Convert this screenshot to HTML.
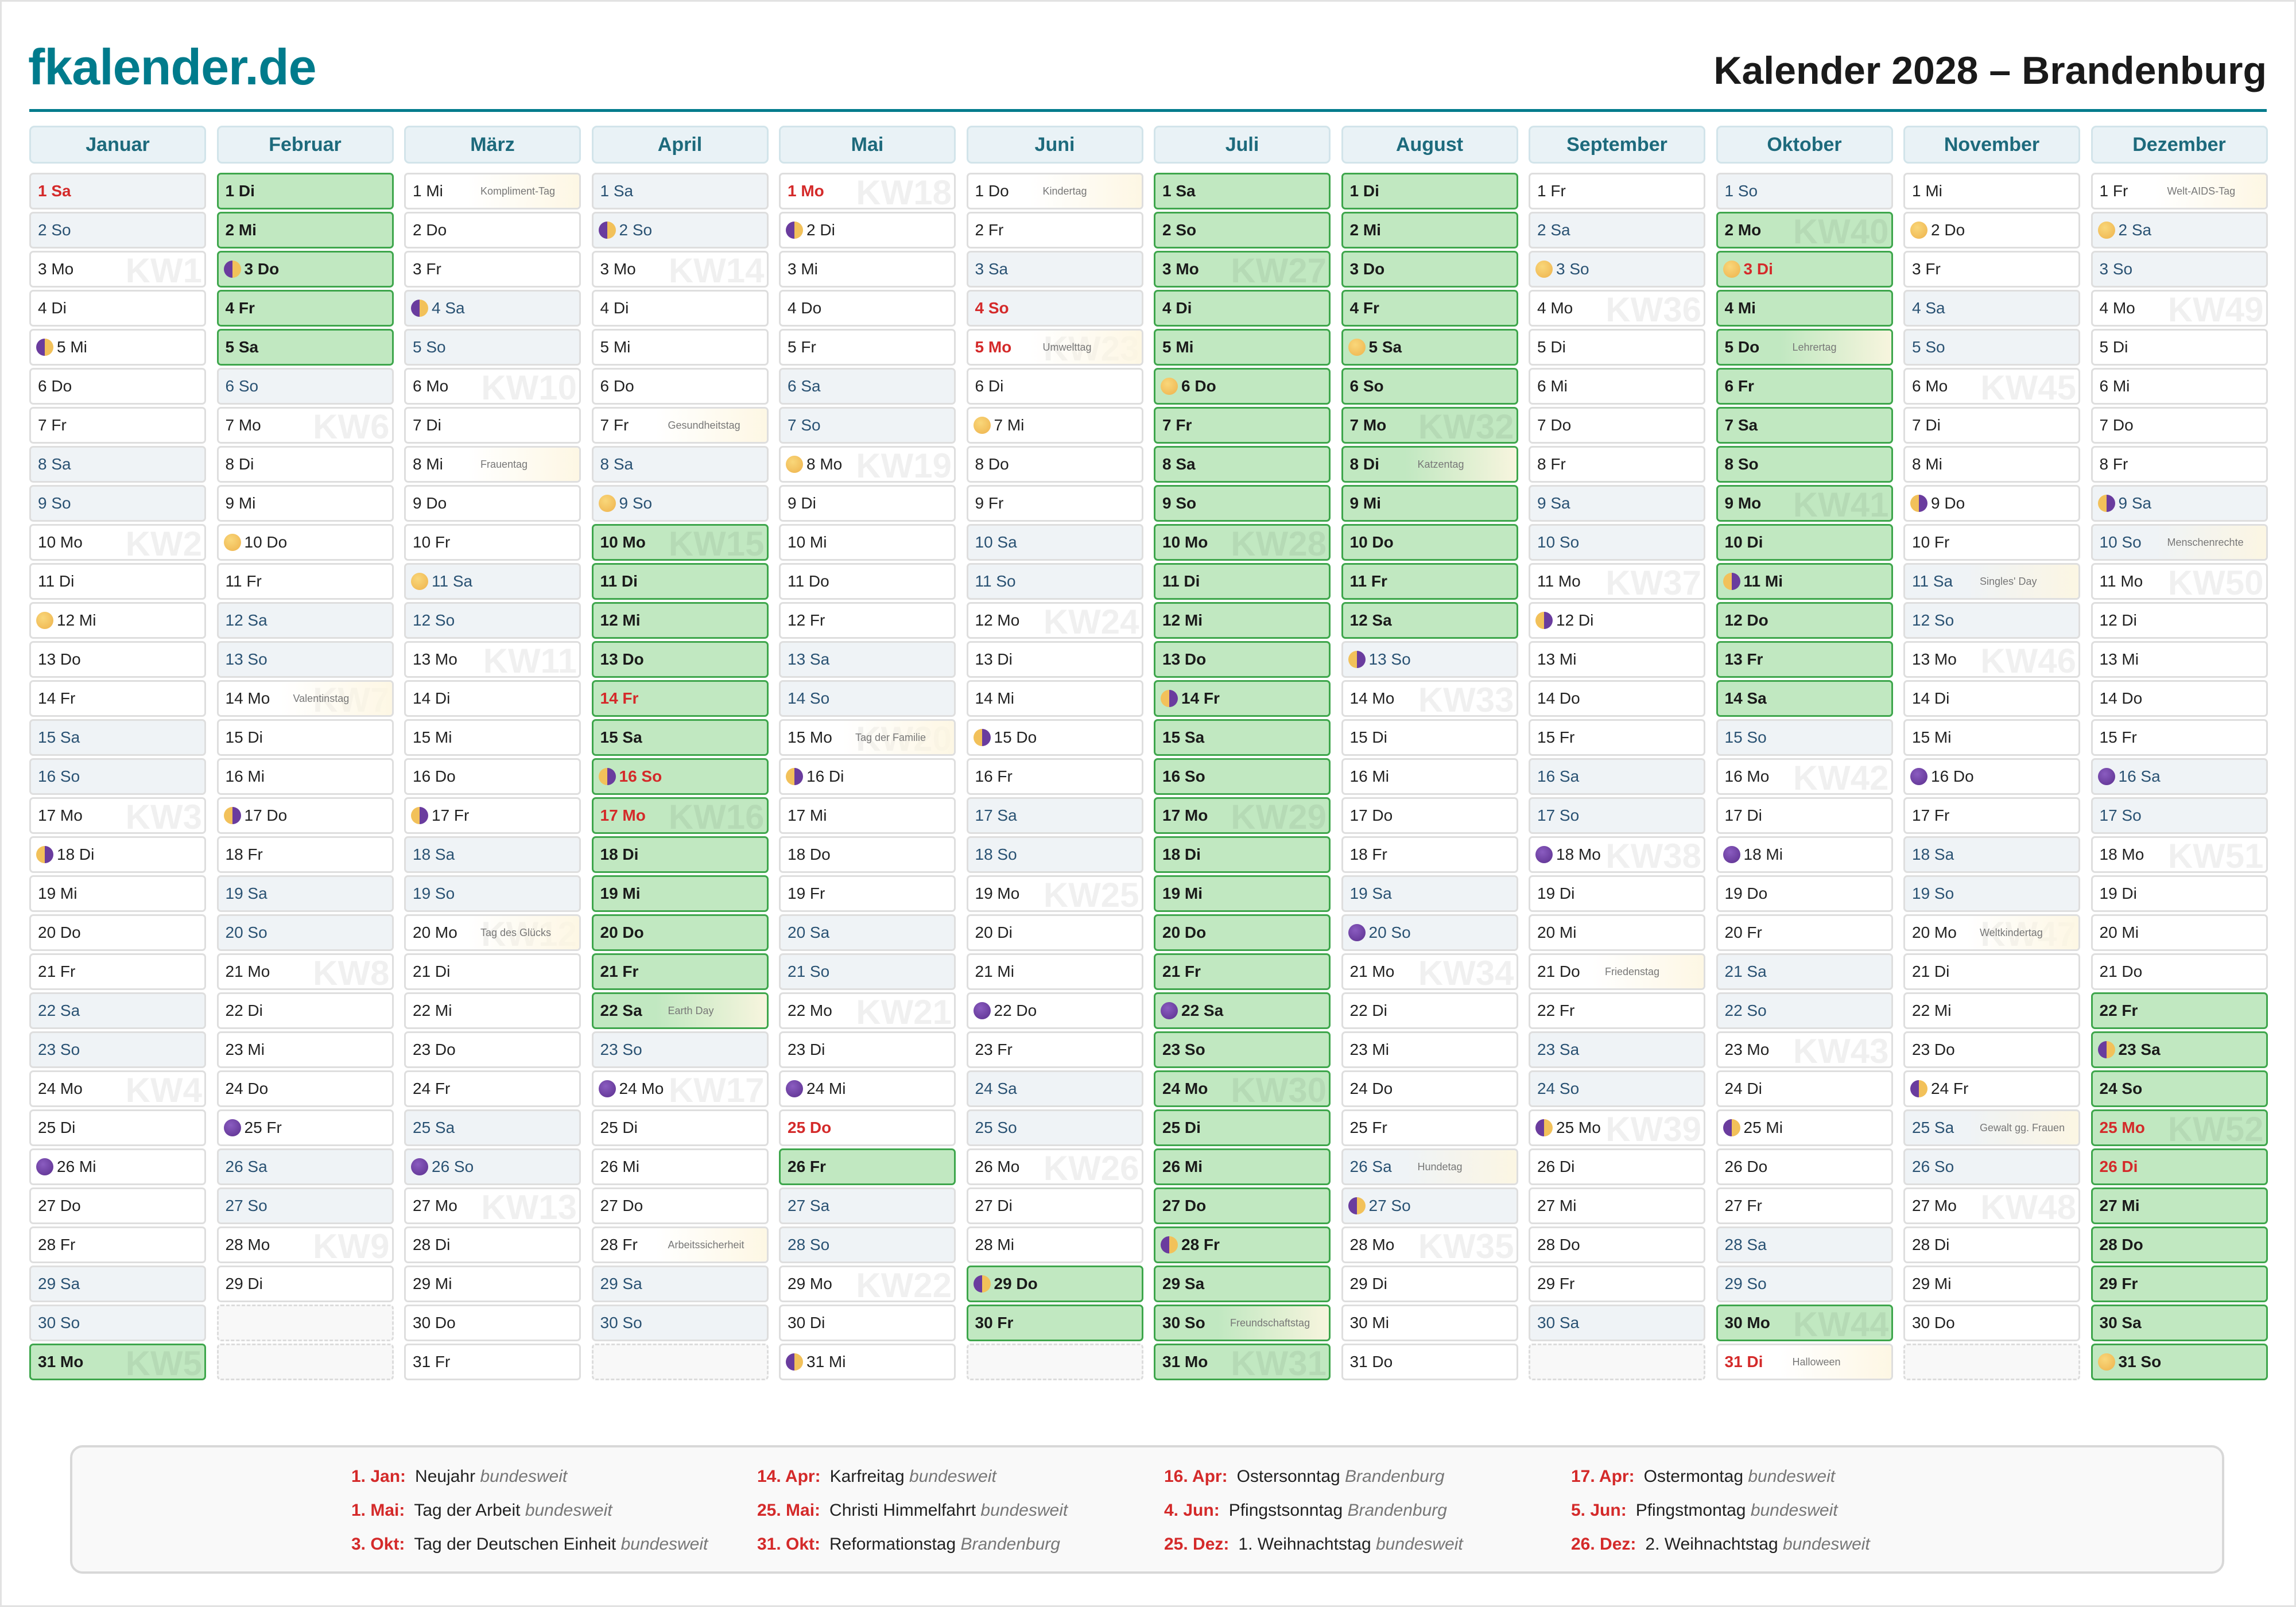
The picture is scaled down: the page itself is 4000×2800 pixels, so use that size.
<!DOCTYPE html>
<html><head><meta charset="utf-8"><style>
html,body{margin:0;padding:0}
body{width:4000px;height:2800px;position:relative;background:#fff;font-family:"Liberation Sans",sans-serif;overflow:hidden}
.frame{position:absolute;left:0;top:0;width:4000px;height:2800px;box-sizing:border-box;border:3px solid #e2e2e2}
.logo{position:absolute;left:49px;top:62px;font-size:88px;font-weight:bold;color:#007b8c;letter-spacing:-1px;line-height:110px}
.title{position:absolute;right:51px;top:78px;font-size:68px;font-weight:bold;color:#1a1a1a;line-height:90px}
.rule{position:absolute;left:51px;top:190px;width:3898px;height:5px;background:#007b8c}
.col{position:absolute;top:219px;width:308px}
.hd{height:66px;box-sizing:border-box;border:3px solid #d2e4ea;background:#e9f2f6;border-radius:9px;text-align:center;line-height:60px;font-size:34px;font-weight:bold;color:#1d6a7c;margin-bottom:16px}
.col p{position:relative;margin:0 0 4px;height:64px;box-sizing:border-box;border:3px solid #dedede;border-radius:7px;background:#fff;padding-left:12px;display:flex;align-items:center;font-size:28px;color:#222;overflow:hidden;white-space:nowrap}
.col p.w{background:#eff3f6;color:#2a5273}
.col p.g{background:#c1e8c1;border-color:#3ea64c;font-weight:bold;color:#1a1a1a}
.col p.h{color:#d42a2a;font-weight:bold}
.col p.e{border:3px dashed #dcdcdc;background:#f8f8f8}
.k{position:absolute;right:4px;top:2px;line-height:60px;font-size:60px;font-weight:bold;color:rgba(0,0,0,0.06)}
.m{display:inline-block;width:30px;height:30px;border-radius:50%;margin:0 6px 0 -3px;flex:none}
.f{background:radial-gradient(circle at 40% 35%,#f9d77a,#eeb24c)}
.n{background:radial-gradient(circle at 40% 35%,#8a5cc0,#5b2f8e)}
.a{background:linear-gradient(90deg,#6a3c9e 50%,#f2c15a 50%)}
.b{background:linear-gradient(90deg,#f2c15a 50%,#6a3c9e 50%)}
.col p em{position:absolute;top:0;bottom:0;right:0;left:108px;padding-left:22px;display:flex;align-items:center;font-style:normal;font-weight:normal;font-size:18px;color:#777;background:linear-gradient(90deg,rgba(253,246,225,0),rgba(253,246,225,.9))}
.leg{position:absolute;left:122px;top:2518px;width:3753px;height:224px;box-sizing:border-box;border:4px solid #d8d8d8;border-radius:22px;background:#f9f9f9}
.li{position:absolute;font-size:30px;color:#222;line-height:40px;white-space:nowrap}
.li b{color:#d42a2a;margin-right:16px}
.li i{color:#777}
</style></head><body>
<div class="frame"></div>
<div class="logo">fkalender.de</div>
<div class="title">Kalender 2028 – Brandenburg</div>
<div class="rule"></div>

<div class="col" style="left:51px"><div class="hd">Januar</div>
<p class="w h">1 Sa</p><p class="w">2 So</p><p><b class="k">KW1</b>3 Mo</p><p>4 Di</p><p><i class="m a"></i>5 Mi</p><p>6 Do</p><p>7 Fr</p><p class="w">8 Sa</p><p class="w">9 So</p><p><b class="k">KW2</b>10 Mo</p><p>11 Di</p><p><i class="m f"></i>12 Mi</p><p>13 Do</p><p>14 Fr</p><p class="w">15 Sa</p><p class="w">16 So</p><p><b class="k">KW3</b>17 Mo</p><p><i class="m b"></i>18 Di</p><p>19 Mi</p><p>20 Do</p><p>21 Fr</p><p class="w">22 Sa</p><p class="w">23 So</p><p><b class="k">KW4</b>24 Mo</p><p>25 Di</p><p><i class="m n"></i>26 Mi</p><p>27 Do</p><p>28 Fr</p><p class="w">29 Sa</p><p class="w">30 So</p><p class="g"><b class="k">KW5</b>31 Mo</p>
</div>

<div class="col" style="left:377.5px"><div class="hd">Februar</div>
<p class="g">1 Di</p><p class="g">2 Mi</p><p class="g"><i class="m a"></i>3 Do</p><p class="g">4 Fr</p><p class="g">5 Sa</p><p class="w">6 So</p><p><b class="k">KW6</b>7 Mo</p><p>8 Di</p><p>9 Mi</p><p><i class="m f"></i>10 Do</p><p>11 Fr</p><p class="w">12 Sa</p><p class="w">13 So</p><p><b class="k">KW7</b>14 Mo<em>Valentinstag</em></p><p>15 Di</p><p>16 Mi</p><p><i class="m b"></i>17 Do</p><p>18 Fr</p><p class="w">19 Sa</p><p class="w">20 So</p><p><b class="k">KW8</b>21 Mo</p><p>22 Di</p><p>23 Mi</p><p>24 Do</p><p><i class="m n"></i>25 Fr</p><p class="w">26 Sa</p><p class="w">27 So</p><p><b class="k">KW9</b>28 Mo</p><p>29 Di</p><p class="e"></p><p class="e"></p>
</div>

<div class="col" style="left:704px"><div class="hd">März</div>
<p>1 Mi<em>Kompliment-Tag</em></p><p>2 Do</p><p>3 Fr</p><p class="w"><i class="m a"></i>4 Sa</p><p class="w">5 So</p><p><b class="k">KW10</b>6 Mo</p><p>7 Di</p><p>8 Mi<em>Frauentag</em></p><p>9 Do</p><p>10 Fr</p><p class="w"><i class="m f"></i>11 Sa</p><p class="w">12 So</p><p><b class="k">KW11</b>13 Mo</p><p>14 Di</p><p>15 Mi</p><p>16 Do</p><p><i class="m b"></i>17 Fr</p><p class="w">18 Sa</p><p class="w">19 So</p><p><b class="k">KW12</b>20 Mo<em>Tag des Glücks</em></p><p>21 Di</p><p>22 Mi</p><p>23 Do</p><p>24 Fr</p><p class="w">25 Sa</p><p class="w"><i class="m n"></i>26 So</p><p><b class="k">KW13</b>27 Mo</p><p>28 Di</p><p>29 Mi</p><p>30 Do</p><p>31 Fr</p>
</div>

<div class="col" style="left:1030.5px"><div class="hd">April</div>
<p class="w">1 Sa</p><p class="w"><i class="m a"></i>2 So</p><p><b class="k">KW14</b>3 Mo</p><p>4 Di</p><p>5 Mi</p><p>6 Do</p><p>7 Fr<em>Gesundheitstag</em></p><p class="w">8 Sa</p><p class="w"><i class="m f"></i>9 So</p><p class="g"><b class="k">KW15</b>10 Mo</p><p class="g">11 Di</p><p class="g">12 Mi</p><p class="g">13 Do</p><p class="g h">14 Fr</p><p class="g">15 Sa</p><p class="g h"><i class="m b"></i>16 So</p><p class="g h"><b class="k">KW16</b>17 Mo</p><p class="g">18 Di</p><p class="g">19 Mi</p><p class="g">20 Do</p><p class="g">21 Fr</p><p class="g">22 Sa<em>Earth Day</em></p><p class="w">23 So</p><p><b class="k">KW17</b><i class="m n"></i>24 Mo</p><p>25 Di</p><p>26 Mi</p><p>27 Do</p><p>28 Fr<em>Arbeitssicherheit</em></p><p class="w">29 Sa</p><p class="w">30 So</p><p class="e"></p>
</div>

<div class="col" style="left:1357px"><div class="hd">Mai</div>
<p class="h"><b class="k">KW18</b>1 Mo</p><p><i class="m a"></i>2 Di</p><p>3 Mi</p><p>4 Do</p><p>5 Fr</p><p class="w">6 Sa</p><p class="w">7 So</p><p><b class="k">KW19</b><i class="m f"></i>8 Mo</p><p>9 Di</p><p>10 Mi</p><p>11 Do</p><p>12 Fr</p><p class="w">13 Sa</p><p class="w">14 So</p><p><b class="k">KW20</b>15 Mo<em>Tag der Familie</em></p><p><i class="m b"></i>16 Di</p><p>17 Mi</p><p>18 Do</p><p>19 Fr</p><p class="w">20 Sa</p><p class="w">21 So</p><p><b class="k">KW21</b>22 Mo</p><p>23 Di</p><p><i class="m n"></i>24 Mi</p><p class="h">25 Do</p><p class="g">26 Fr</p><p class="w">27 Sa</p><p class="w">28 So</p><p><b class="k">KW22</b>29 Mo</p><p>30 Di</p><p><i class="m a"></i>31 Mi</p>
</div>

<div class="col" style="left:1683.5px"><div class="hd">Juni</div>
<p>1 Do<em>Kindertag</em></p><p>2 Fr</p><p class="w">3 Sa</p><p class="w h">4 So</p><p class="h"><b class="k">KW23</b>5 Mo<em>Umwelttag</em></p><p>6 Di</p><p><i class="m f"></i>7 Mi</p><p>8 Do</p><p>9 Fr</p><p class="w">10 Sa</p><p class="w">11 So</p><p><b class="k">KW24</b>12 Mo</p><p>13 Di</p><p>14 Mi</p><p><i class="m b"></i>15 Do</p><p>16 Fr</p><p class="w">17 Sa</p><p class="w">18 So</p><p><b class="k">KW25</b>19 Mo</p><p>20 Di</p><p>21 Mi</p><p><i class="m n"></i>22 Do</p><p>23 Fr</p><p class="w">24 Sa</p><p class="w">25 So</p><p><b class="k">KW26</b>26 Mo</p><p>27 Di</p><p>28 Mi</p><p class="g"><i class="m a"></i>29 Do</p><p class="g">30 Fr</p><p class="e"></p>
</div>

<div class="col" style="left:2010px"><div class="hd">Juli</div>
<p class="g">1 Sa</p><p class="g">2 So</p><p class="g"><b class="k">KW27</b>3 Mo</p><p class="g">4 Di</p><p class="g">5 Mi</p><p class="g"><i class="m f"></i>6 Do</p><p class="g">7 Fr</p><p class="g">8 Sa</p><p class="g">9 So</p><p class="g"><b class="k">KW28</b>10 Mo</p><p class="g">11 Di</p><p class="g">12 Mi</p><p class="g">13 Do</p><p class="g"><i class="m b"></i>14 Fr</p><p class="g">15 Sa</p><p class="g">16 So</p><p class="g"><b class="k">KW29</b>17 Mo</p><p class="g">18 Di</p><p class="g">19 Mi</p><p class="g">20 Do</p><p class="g">21 Fr</p><p class="g"><i class="m n"></i>22 Sa</p><p class="g">23 So</p><p class="g"><b class="k">KW30</b>24 Mo</p><p class="g">25 Di</p><p class="g">26 Mi</p><p class="g">27 Do</p><p class="g"><i class="m a"></i>28 Fr</p><p class="g">29 Sa</p><p class="g">30 So<em>Freundschaftstag</em></p><p class="g"><b class="k">KW31</b>31 Mo</p>
</div>

<div class="col" style="left:2336.5px"><div class="hd">August</div>
<p class="g">1 Di</p><p class="g">2 Mi</p><p class="g">3 Do</p><p class="g">4 Fr</p><p class="g"><i class="m f"></i>5 Sa</p><p class="g">6 So</p><p class="g"><b class="k">KW32</b>7 Mo</p><p class="g">8 Di<em>Katzentag</em></p><p class="g">9 Mi</p><p class="g">10 Do</p><p class="g">11 Fr</p><p class="g">12 Sa</p><p class="w"><i class="m b"></i>13 So</p><p><b class="k">KW33</b>14 Mo</p><p>15 Di</p><p>16 Mi</p><p>17 Do</p><p>18 Fr</p><p class="w">19 Sa</p><p class="w"><i class="m n"></i>20 So</p><p><b class="k">KW34</b>21 Mo</p><p>22 Di</p><p>23 Mi</p><p>24 Do</p><p>25 Fr</p><p class="w">26 Sa<em>Hundetag</em></p><p class="w"><i class="m a"></i>27 So</p><p><b class="k">KW35</b>28 Mo</p><p>29 Di</p><p>30 Mi</p><p>31 Do</p>
</div>

<div class="col" style="left:2663px"><div class="hd">September</div>
<p>1 Fr</p><p class="w">2 Sa</p><p class="w"><i class="m f"></i>3 So</p><p><b class="k">KW36</b>4 Mo</p><p>5 Di</p><p>6 Mi</p><p>7 Do</p><p>8 Fr</p><p class="w">9 Sa</p><p class="w">10 So</p><p><b class="k">KW37</b>11 Mo</p><p><i class="m b"></i>12 Di</p><p>13 Mi</p><p>14 Do</p><p>15 Fr</p><p class="w">16 Sa</p><p class="w">17 So</p><p><b class="k">KW38</b><i class="m n"></i>18 Mo</p><p>19 Di</p><p>20 Mi</p><p>21 Do<em>Friedenstag</em></p><p>22 Fr</p><p class="w">23 Sa</p><p class="w">24 So</p><p><b class="k">KW39</b><i class="m a"></i>25 Mo</p><p>26 Di</p><p>27 Mi</p><p>28 Do</p><p>29 Fr</p><p class="w">30 Sa</p><p class="e"></p>
</div>

<div class="col" style="left:2989.5px"><div class="hd">Oktober</div>
<p class="w">1 So</p><p class="g"><b class="k">KW40</b>2 Mo</p><p class="g h"><i class="m f"></i>3 Di</p><p class="g">4 Mi</p><p class="g">5 Do<em>Lehrertag</em></p><p class="g">6 Fr</p><p class="g">7 Sa</p><p class="g">8 So</p><p class="g"><b class="k">KW41</b>9 Mo</p><p class="g">10 Di</p><p class="g"><i class="m b"></i>11 Mi</p><p class="g">12 Do</p><p class="g">13 Fr</p><p class="g">14 Sa</p><p class="w">15 So</p><p><b class="k">KW42</b>16 Mo</p><p>17 Di</p><p><i class="m n"></i>18 Mi</p><p>19 Do</p><p>20 Fr</p><p class="w">21 Sa</p><p class="w">22 So</p><p><b class="k">KW43</b>23 Mo</p><p>24 Di</p><p><i class="m a"></i>25 Mi</p><p>26 Do</p><p>27 Fr</p><p class="w">28 Sa</p><p class="w">29 So</p><p class="g"><b class="k">KW44</b>30 Mo</p><p class="h">31 Di<em>Halloween</em></p>
</div>

<div class="col" style="left:3316px"><div class="hd">November</div>
<p>1 Mi</p><p><i class="m f"></i>2 Do</p><p>3 Fr</p><p class="w">4 Sa</p><p class="w">5 So</p><p><b class="k">KW45</b>6 Mo</p><p>7 Di</p><p>8 Mi</p><p><i class="m b"></i>9 Do</p><p>10 Fr</p><p class="w">11 Sa<em>Singles' Day</em></p><p class="w">12 So</p><p><b class="k">KW46</b>13 Mo</p><p>14 Di</p><p>15 Mi</p><p><i class="m n"></i>16 Do</p><p>17 Fr</p><p class="w">18 Sa</p><p class="w">19 So</p><p><b class="k">KW47</b>20 Mo<em>Weltkindertag</em></p><p>21 Di</p><p>22 Mi</p><p>23 Do</p><p><i class="m a"></i>24 Fr</p><p class="w">25 Sa<em>Gewalt gg. Frauen</em></p><p class="w">26 So</p><p><b class="k">KW48</b>27 Mo</p><p>28 Di</p><p>29 Mi</p><p>30 Do</p><p class="e"></p>
</div>

<div class="col" style="left:3642.5px"><div class="hd">Dezember</div>
<p>1 Fr<em>Welt-AIDS-Tag</em></p><p class="w"><i class="m f"></i>2 Sa</p><p class="w">3 So</p><p><b class="k">KW49</b>4 Mo</p><p>5 Di</p><p>6 Mi</p><p>7 Do</p><p>8 Fr</p><p class="w"><i class="m b"></i>9 Sa</p><p class="w">10 So<em>Menschenrechte</em></p><p><b class="k">KW50</b>11 Mo</p><p>12 Di</p><p>13 Mi</p><p>14 Do</p><p>15 Fr</p><p class="w"><i class="m n"></i>16 Sa</p><p class="w">17 So</p><p><b class="k">KW51</b>18 Mo</p><p>19 Di</p><p>20 Mi</p><p>21 Do</p><p class="g">22 Fr</p><p class="g"><i class="m a"></i>23 Sa</p><p class="g">24 So</p><p class="g h"><b class="k">KW52</b>25 Mo</p><p class="g h">26 Di</p><p class="g">27 Mi</p><p class="g">28 Do</p><p class="g">29 Fr</p><p class="g">30 Sa</p><p class="g"><i class="m f"></i>31 So</p>
</div>

<div class="leg"></div>
<div class="li" style="left:612px;top:2553px"><b>1. Jan:</b>Neujahr <i>bundesweit</i></div>
<div class="li" style="left:612px;top:2612px"><b>1. Mai:</b>Tag der Arbeit <i>bundesweit</i></div>
<div class="li" style="left:612px;top:2671px"><b>3. Okt:</b>Tag der Deutschen Einheit <i>bundesweit</i></div>
<div class="li" style="left:1319px;top:2553px"><b>14. Apr:</b>Karfreitag <i>bundesweit</i></div>
<div class="li" style="left:1319px;top:2612px"><b>25. Mai:</b>Christi Himmelfahrt <i>bundesweit</i></div>
<div class="li" style="left:1319px;top:2671px"><b>31. Okt:</b>Reformationstag <i>Brandenburg</i></div>
<div class="li" style="left:2028px;top:2553px"><b>16. Apr:</b>Ostersonntag <i>Brandenburg</i></div>
<div class="li" style="left:2028px;top:2612px"><b>4. Jun:</b>Pfingstsonntag <i>Brandenburg</i></div>
<div class="li" style="left:2028px;top:2671px"><b>25. Dez:</b>1. Weihnachtstag <i>bundesweit</i></div>
<div class="li" style="left:2737px;top:2553px"><b>17. Apr:</b>Ostermontag <i>bundesweit</i></div>
<div class="li" style="left:2737px;top:2612px"><b>5. Jun:</b>Pfingstmontag <i>bundesweit</i></div>
<div class="li" style="left:2737px;top:2671px"><b>26. Dez:</b>2. Weihnachtstag <i>bundesweit</i></div>
</body></html>
